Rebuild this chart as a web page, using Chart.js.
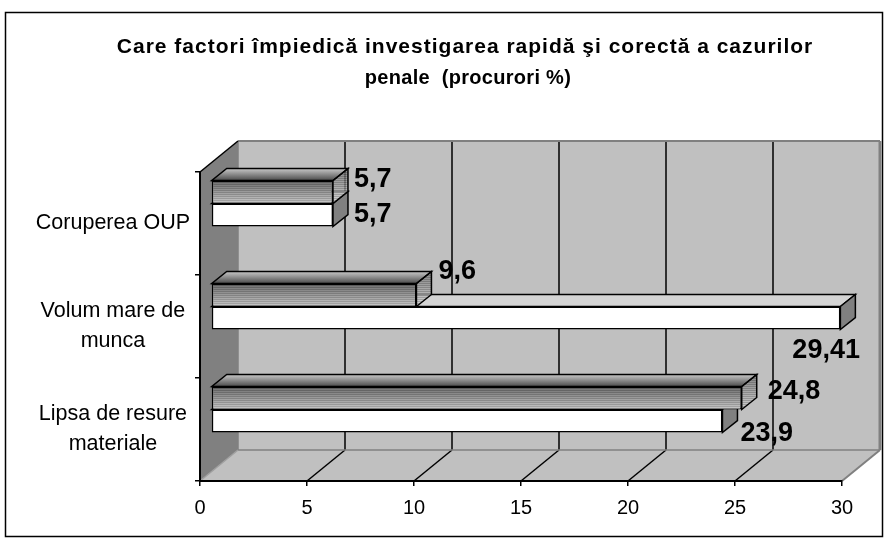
<!DOCTYPE html>
<html>
<head>
<meta charset="utf-8">
<script src="https://cdn.jsdelivr.net/npm/chart.js@4"></script>
<style>
  html, body { margin: 0; padding: 0; background: #fff; }
  canvas { display: block; }
</style>
</head>
<body>
<canvas id="canvas" width="888" height="548"></canvas>
<script>
// Categorii (de sus in jos)
const categories = [
  ['Coruperea OUP'],
  ['Volum mare de', 'munca'],
  ['Lipsa de resure', 'materiale']
];

// Valori (%) - seria hasurata (sus) si seria alba (jos)
const seriesHatched = [5.7, 9.6, 24.8];
const seriesWhite = [5.7, 29.41, 23.9];

// Gradatii axa X
const xTicks = [0, 5, 10, 15, 20, 25, 30];

const titleLines = [
  'Care factori împiedică investigarea rapidă şi corectă a cazurilor',
  'penale  (procurori %)'
];

// mici ajustari pentru etichetele de valoare (ca in Excel)
const labelNudge = [
  [[0, -12], [1, -23], [5, -6]],
  [[0, 0], [-69, 33], [-3, 13]]
];

const FONT = '"Liberation Sans", Arial, sans-serif';
const DEPTH = { x: 38, y: -31 };      // adancimea peretilor
const BAR_SHIFT = { x: 11, y: -20 };  // planul frontal al barelor
const BAR_DEPTH = { x: 15, y: -12 };  // adancimea barelor

const fmt = v => String(v).replace('.', ',');

function poly(ctx, pts, fill, stroke, lw) {
  ctx.beginPath();
  ctx.moveTo(pts[0][0], pts[0][1]);
  for (let i = 1; i < pts.length; i++) ctx.lineTo(pts[i][0], pts[i][1]);
  ctx.closePath();
  if (fill) { ctx.fillStyle = fill; ctx.fill(); }
  if (stroke) { ctx.strokeStyle = stroke; ctx.lineWidth = lw || 1; ctx.stroke(); }
}

function line(ctx, x1, y1, x2, y2, color, lw) {
  ctx.beginPath();
  ctx.moveTo(x1, y1);
  ctx.lineTo(x2, y2);
  ctx.strokeStyle = color;
  ctx.lineWidth = lw;
  ctx.stroke();
}

function grey(t) {
  const c = Math.round(255 * Math.max(0, Math.min(1, t)));
  return 'rgb(' + c + ',' + c + ',' + c + ')';
}

// fata frontala a unei bare, dupa deplasare
function frontRect(el) {
  const p = el.getProps(['x', 'y', 'base', 'height'], true);
  return {
    left: Math.min(p.base, p.x) + BAR_SHIFT.x,
    right: Math.max(p.base, p.x) + BAR_SHIFT.x,
    top: p.y - p.height / 2 + BAR_SHIFT.y,
    bottom: p.y + p.height / 2 + BAR_SHIFT.y
  };
}

function stripes(ctx, x, y, w, h, dark, light) {
  for (let k = 0; k < h; k++) {
    const t = k / h;
    ctx.fillStyle = k % 2 === 0 ? grey(dark + (light - dark) * t * 0.7) : grey(0.55 + 0.45 * t);
    ctx.fillRect(x, y + k, w, 1);
  }
}

const plot3d = {
  id: 'plot3d',
  beforeDraw(chart) {
    const { ctx, chartArea: a, scales: { x } } = chart;
    ctx.save();
    ctx.fillStyle = '#fff';
    ctx.fillRect(0, 0, chart.width, chart.height);
    ctx.strokeStyle = '#000';
    ctx.lineWidth = 1.5;
    ctx.strokeRect(5.5, 12.5, 877, 524);

    // titlul
    ctx.fillStyle = '#000';
    ctx.textAlign = 'center';
    ctx.textBaseline = 'middle';
    ctx.font = 'bold 21px ' + FONT;
    ctx.letterSpacing = '1px';
    ctx.fillText(titleLines[0], 465, 47);
    ctx.font = 'bold 20px ' + FONT;
    ctx.letterSpacing = '0.3px';
    ctx.fillText(titleLines[1], 468, 78);
    ctx.letterSpacing = '0px';

    const bl = a.left + DEPTH.x, br = a.right + DEPTH.x;
    const bt = a.top + DEPTH.y, bb = a.bottom + DEPTH.y;

    // perete spate
    ctx.fillStyle = '#c0c0c0';
    ctx.fillRect(bl, bt, br - bl, bb - bt);
    // podea
    poly(ctx, [[a.left, a.bottom], [a.right, a.bottom], [br, bb], [bl, bb]], '#c0c0c0');
    // perete lateral
    poly(ctx, [[a.left, a.top], [bl, bt], [bl, bb], [a.left, a.bottom]], '#808080');

    // linii de grila
    xTicks.slice(1, -1).forEach(v => {
      const px = x.getPixelForValue(v);
      line(ctx, px + DEPTH.x, bt, px + DEPTH.x, bb, '#000', 1.5);
      line(ctx, px, a.bottom, px + DEPTH.x, bb, '#000', 1.5);
    });

    // margini
    line(ctx, bl, bt, br, bt, '#808080', 2);
    line(ctx, br, bt, br, bb, '#808080', 3);
    line(ctx, bl, bt, bl, bb, '#808080', 1.5);
    line(ctx, bl, bb, br, bb, '#808080', 1.5);
    line(ctx, a.right, a.bottom, br, bb, '#808080', 2);
    line(ctx, a.left, a.bottom, bl, bb, '#a0a0a0', 1.5);
    line(ctx, a.left, a.top, bl, bt, '#000', 1.5);
    ctx.restore();
  },
  beforeDatasetsDraw(chart) {
    const { ctx } = chart;
    ctx.save();
    // fetele de sus si laterale, seria de jos prima
    for (let i = chart.data.datasets.length - 1; i >= 0; i--) {
      const meta = chart.getDatasetMeta(i);
      meta.data.forEach(el => {
        const f = frontRect(el);
        const dx = BAR_DEPTH.x, dy = BAR_DEPTH.y;
        const top = [[f.left, f.top], [f.right, f.top], [f.right + dx, f.top + dy], [f.left + dx, f.top + dy]];
        const side = [[f.right, f.top], [f.right + dx, f.top + dy], [f.right + dx, f.bottom + dy], [f.right, f.bottom]];
        if (i === 0) {
          const g = ctx.createLinearGradient(0, f.top + dy, 0, f.top);
          g.addColorStop(0, '#c8c8c8');
          g.addColorStop(0.5, '#8a8a8a');
          g.addColorStop(1, '#4a4a4a');
          poly(ctx, top, g);
          ctx.save();
          poly(ctx, side, null);
          ctx.clip();
          stripes(ctx, f.right, f.top + dy, dx + 1, f.bottom - f.top - dy, 0.2, 0.6);
          ctx.restore();
          poly(ctx, top, null, '#000', 1.5);
          poly(ctx, side, null, '#000', 1.5);
        } else {
          poly(ctx, top, '#d4d4d4', '#000', 1.5);
          poly(ctx, side, '#808080', '#000', 1.5);
        }
      });
    }
    ctx.translate(BAR_SHIFT.x, BAR_SHIFT.y);
  },
  afterDatasetsDraw(chart) {
    const { ctx } = chart;
    ctx.restore();
    ctx.save();
    // hasura pe fata frontala a seriei 1
    chart.getDatasetMeta(0).data.forEach(el => {
      const f = frontRect(el);
      stripes(ctx, f.left + 1.5, f.top + 2, f.right - f.left - 3, f.bottom - f.top - 3.5, 0.25, 0.75);
      line(ctx, f.left, f.top + 0.75, f.right, f.top + 0.75, '#000', 1.5);
    });
    // etichete de valoare
    ctx.font = 'bold 27px ' + FONT;
    ctx.fillStyle = '#000';
    ctx.textAlign = 'left';
    ctx.textBaseline = 'middle';
    chart.data.datasets.forEach((ds, i) => {
      chart.getDatasetMeta(i).data.forEach((el, j) => {
        const f = frontRect(el);
        const n = labelNudge[i][j];
        ctx.fillText(fmt(ds.data[j]), f.right + 21 + n[0], (f.top + f.bottom) / 2 + n[1]);
      });
    });
    ctx.restore();
  }
};

Chart.defaults.font.family = FONT;
Chart.defaults.color = '#000';

const data = {
  labels: categories,
  datasets: [
    {
      label: 'Seria 1',
      data: seriesHatched,
      backgroundColor: '#7a7a7a',
      borderColor: '#000',
      borderWidth: 1.5,
      borderSkipped: false,
      categoryPercentage: 0.447,
      barPercentage: 1
    },
    {
      label: 'Seria 2',
      data: seriesWhite,
      backgroundColor: '#ffffff',
      borderColor: '#000',
      borderWidth: 1.5,
      borderSkipped: false,
      categoryPercentage: 0.447,
      barPercentage: 1
    }
  ]
};

const config = {
  type: 'bar',
  data: data,
  options: {
    indexAxis: 'y',
    responsive: false,
    animation: false,
    devicePixelRatio: 1,
    layout: { padding: { left: 20, right: 46, top: 172, bottom: 10 } },
    plugins: {
      legend: { display: false },
      tooltip: { enabled: false },
      title: { display: false }
    },
    scales: {
      x: {
        min: 0,
        max: 30,
        afterFit: s => { s.height = 57; },
        afterBuildTicks: s => { s.ticks = xTicks.map(v => ({ value: v })); },
        grid: { drawOnChartArea: false, tickLength: 5, color: '#000', lineWidth: 1.5 },
        border: { color: '#000', width: 2 },
        ticks: { font: { size: 20 }, padding: 10, maxRotation: 0, autoSkip: false }
      },
      y: {
        afterFit: s => { s.width = 180; },
        grid: { drawOnChartArea: false, tickLength: 5, color: '#000', lineWidth: 1.5 },
        border: { color: '#000', width: 2 },
        ticks: { font: { size: 21.5, lineHeight: 1.4 }, padding: 5, crossAlign: 'center', autoSkip: false }
      }
    }
  },
  plugins: [plot3d]
};

const canvas = document.getElementById('canvas');
const chart = new Chart(canvas, config);
</script>
</body>
</html>
